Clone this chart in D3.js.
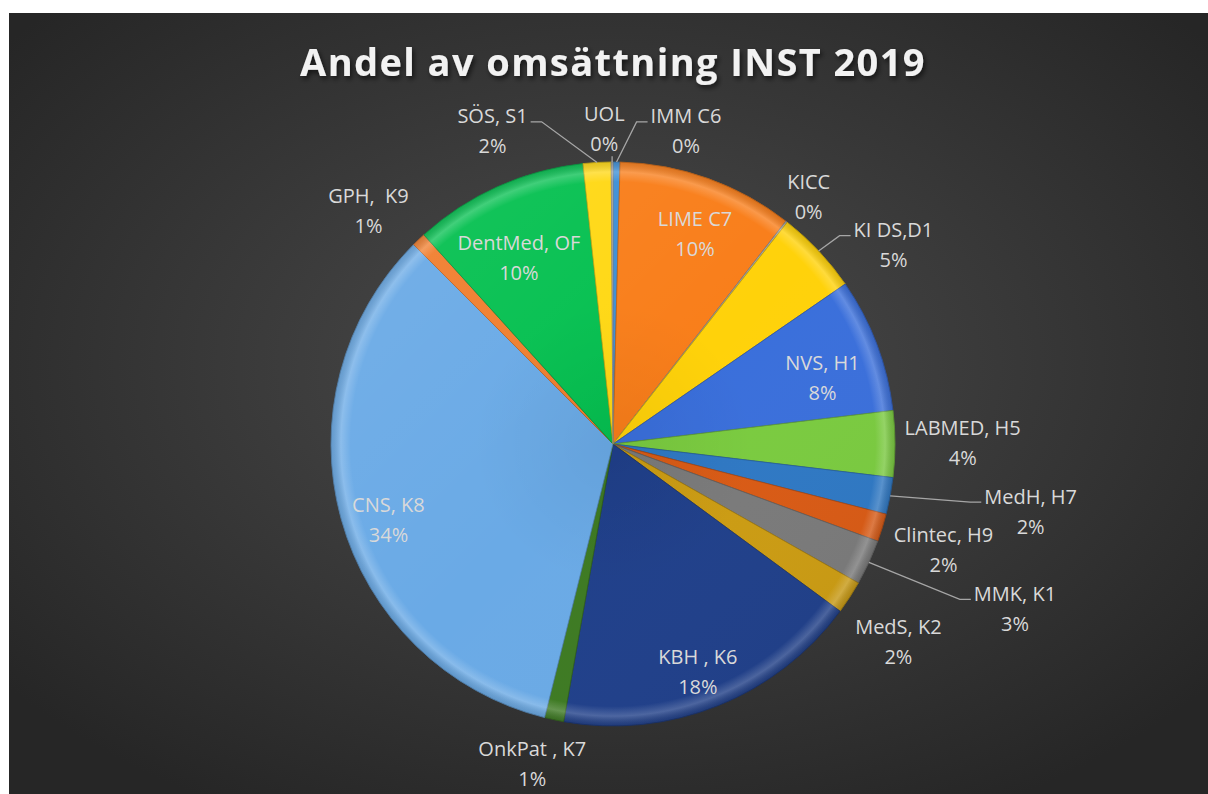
<!DOCTYPE html>
<meta charset="utf-8">
<script src="https://d3js.org/d3.v7.min.js"></script>
<style>
  body { margin: 0; background: #fff; }
  text { font-family: "Open Sans", sans-serif; }
</style>
<div id="chart"></div>
<script>

    // data (share of turnover, %)
    const categories = ["IMM C6", "LIME C7", "KICC", "KI DS,D1", "NVS, H1", "LABMED, H5", "MedH, H7",
        "Clintec, H9", "MMK, K1", "MedS, K2", "KBH , K6", "OnkPat , K7", "CNS, K8", "GPH,  K9",
        "DentMed, OF", "SÖS, S1", "UOL"];
    const values = [0.4, 10.1, 0.1, 4.8, 7.7, 3.8, 2.1, 1.6, 2.6, 1.9, 17.7, 1.1, 33.6, 0.8, 10.0, 1.6, 0.1];
    const colors = ["#3d8fd6", "#f97e1a", "#a5a5a5", "#ffd20a", "#3a6fdb", "#7acb3f", "#2e78c4",
        "#d95a14", "#7a7a7a", "#cc9c12", "#1f3f8a", "#3d7a22", "#6aaae6", "#f07e2e",
        "#05c050", "#ffd814", "#b0b0b0"];

    // label layout: angle shift from slice middle (deg), distance (x radius), leader line?
    const labelShift = [12.4, 1.7, 0.3, 7.8, 3, -0.3, -1.5, 0.4, -2.6, 1.7, 1.3, 2.1, -3.1, -2.7, -2.7, -17.8, -1.4];
    const labelDist = [1.14, 0.80, 1.12, 1.22, 0.78, 1.24, 1.50, 1.23, 1.54, 1.23, 0.86, 1.17, 0.84, 1.20, 0.74, 1.19, 1.12];
    const leader = [1, 0, 0, 1, 0, 0, 1, 0, 1, 0, 0, 0, 0, 0, 0, 1, 1];

    const W = 1208, H = 794;
    const cx = 613, cy = 444, R = 282;

    const svg = d3.select("#chart").append("svg")
        .attr("width", W).attr("height", H);

    const defs = svg.append("defs");

    const bg = defs.append("radialGradient").attr("id", "bg")
        .attr("cx", "50%").attr("cy", "45%").attr("r", "65%");
    bg.append("stop").attr("offset", "0%").attr("stop-color", "#4c4c4c");
    bg.append("stop").attr("offset", "100%").attr("stop-color", "#262626");

    const bevel = defs.append("radialGradient").attr("id", "bevel")
        .attr("gradientUnits", "userSpaceOnUse").attr("cx", 0).attr("cy", 0).attr("r", R);
    [[0, "#000", 0.05], [0.5, "#000", 0], [0.93, "#fff", 0], [0.965, "#fff", 0.2], [1, "#000", 0.12]]
        .forEach(s => bevel.append("stop").attr("offset", s[0]).attr("stop-color", s[1]).attr("stop-opacity", s[2]));

    const light = defs.append("linearGradient").attr("id", "light")
        .attr("gradientUnits", "userSpaceOnUse")
        .attr("x1", -R).attr("y1", -R).attr("x2", R).attr("y2", R);
    light.append("stop").attr("offset", 0).attr("stop-color", "#fff").attr("stop-opacity", 0.08);
    light.append("stop").attr("offset", 0.5).attr("stop-color", "#fff").attr("stop-opacity", 0);
    light.append("stop").attr("offset", 1).attr("stop-color", "#000").attr("stop-opacity", 0.06);

    const shadow = defs.append("filter").attr("id", "shadow")
        .attr("x", "-10%").attr("y", "-10%").attr("width", "120%").attr("height", "130%");
    shadow.append("feDropShadow").attr("dx", 2).attr("dy", 3).attr("stdDeviation", 2.5)
        .attr("flood-color", "#000").attr("flood-opacity", 0.6);

    // background panel
    svg.append("rect").attr("x", 9).attr("y", 13).attr("width", W - 9).attr("height", H - 13)
        .attr("fill", "url(#bg)");

    // title
    svg.append("text")
        .attr("x", cx).attr("y", 76)
        .attr("text-anchor", "middle")
        .attr("font-size", 38).attr("font-weight", "bold")
        .attr("letter-spacing", 1.4)
        .attr("fill", "#f2f2f2")
        .attr("filter", "url(#shadow)")
        .text("Andel av omsättning INST 2019");

    const rows = categories.map((c, i) => ({name: c, v: values[i], color: colors[i], i: i}));
    const total = d3.sum(values);

    const pie = d3.pie().sort(null).value(d => d.v);
    const arcs = pie(rows);
    const arc = d3.arc().innerRadius(0).outerRadius(R);

    const g = svg.append("g").attr("transform", `translate(${cx},${cy})`);

    g.selectAll("path.slice")
        .data(arcs)
        .join("path")
        .attr("class", "slice")
        .attr("d", arc)
        .attr("fill", d => d.data.color)
        .attr("stroke", d => d3.color(d.data.color).darker(0.7))
        .attr("stroke-width", 0.8);

    // bevel + lighting overlays
    g.selectAll("path.bevel")
        .data(arcs)
        .join("path")
        .attr("class", "bevel")
        .attr("d", arc)
        .attr("fill", "url(#bevel)");
    g.selectAll("path.light")
        .data(arcs)
        .join("path")
        .attr("class", "light")
        .attr("d", arc)
        .attr("fill", "url(#light)");

    // labels
    const rad = deg => deg * Math.PI / 180;
    const labels = g.selectAll("g.lab")
        .data(arcs)
        .join("g")
        .attr("class", "lab")
        .each(function (d) {
            const i = d.data.i;
            const a = (d.startAngle + d.endAngle) / 2 + rad(labelShift[i]);
            d.lx = Math.sin(a) * R * labelDist[i];
            d.ly = -Math.cos(a) * R * labelDist[i];
        })
        .attr("transform", d => `translate(${d.lx},${d.ly})`);

    labels.append("text")
        .attr("y", -15)
        .attr("text-anchor", "middle")
        .attr("dominant-baseline", "central")
        .attr("font-size", 20)
        .attr("fill", "#d9d9d9")
        .style("white-space", "pre")
        .text(d => d.data.name);
    labels.append("text")
        .attr("y", 15)
        .attr("text-anchor", "middle")
        .attr("dominant-baseline", "central")
        .attr("font-size", 20)
        .attr("fill", "#d9d9d9")
        .text(d => Math.round(d.data.v / total * 100) + "%");

    // leader lines
    labels.each(function (d) {
        if (!leader[d.data.i]) return;
        const wdt = d3.max(d3.select(this).selectAll("text").nodes(), n => n.getComputedTextLength());
        const m = (d.startAngle + d.endAngle) / 2;
        const sx = Math.sin(m) * R, sy = -Math.cos(m) * R;
        let pts;
        if (Math.abs(d.lx - sx) < 20) {
            pts = [[sx, sy], [sx, d.ly + 28]];
        } else {
            const side = d.lx > sx ? -1 : 1;
            const ex = d.lx + side * (wdt / 2 + 3);
            const ey = d.ly - 9;
            pts = [[sx, sy], [ex + side * 11, ey], [ex, ey]];
        }
        g.append("path")
            .attr("d", d3.line()(pts))
            .attr("fill", "none")
            .attr("stroke", "#a6a6a6")
            .attr("stroke-width", 1.3);
    });

</script>
